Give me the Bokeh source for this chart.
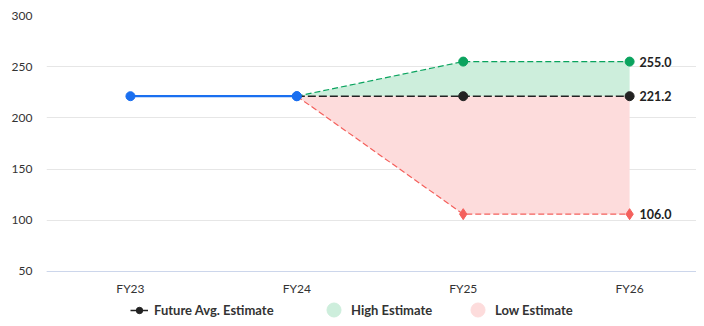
from bokeh.plotting import figure
from bokeh.models import Legend, LegendItem, FixedTicker, Range1d, Span
from bokeh.core.properties import value
from bokeh.embed import file_html
from bokeh.resources import INLINE

categories = ["FY23", "FY24", "FY25", "FY26"]
cat_x = [0, 1, 2, 3]
actual_x = [0, 1]
actual_y = [221.2, 221.2]
est_x = [1, 2, 3]
avg_est = [221.2, 221.2, 221.2]
high_est = [221.2, 255.0, 255.0]
low_est = [221.2, 106.0, 106.0]
y_ticks = [50, 100, 150, 200, 250, 300]
y_floor = 50

FONT = "Lato"
BLUE = "#1a6ff0"
GREEN = "#0aa35e"
RED = "#f4605c"
BLACK = "#222222"
LIGHT_GREEN = "#cdeedc"
LIGHT_RED = "#fddcdc"

p = figure(width=696, height=318, output_backend="svg", toolbar_location=None,
           x_range=Range1d(-0.5045, 3.402), y_range=Range1d(4.1, 300),
           min_border_left=46, min_border_right=0, min_border_top=15, min_border_bottom=0)
p.outline_line_color = None
p.background_fill_color = "white"
p.xaxis.visible = False

# bands
p.varea(x=est_x, y1=avg_est, y2=high_est, fill_color=LIGHT_GREEN, fill_alpha=1)
p.varea(x=est_x, y1=low_est, y2=avg_est, fill_color=LIGHT_RED, fill_alpha=1)

# actual
p.line(actual_x, actual_y, line_color=BLUE, line_width=2.2)
p.scatter(actual_x, actual_y, size=9, fill_color=BLUE, line_color=BLUE)

# high / low
p.line(est_x, high_est, line_color=GREEN, line_width=1.2, line_dash="6 3")
p.scatter(est_x[1:], high_est[1:], size=9, fill_color=GREEN, line_color=GREEN)
p.line(est_x, low_est, line_color=RED, line_width=1.2, line_dash="6 3")
p.scatter(est_x[1:], low_est[1:], marker="diamond", size=11, fill_color=RED, line_color=RED)

# avg
avg_line = p.line(est_x, avg_est, line_color=BLACK, line_width=1.4, line_dash="8 3")
avg_pts = p.scatter(est_x[1:], avg_est[1:], size=9, fill_color=BLACK, line_color=BLACK)
p.scatter([1], [221.2], size=9, fill_color=BLUE, line_color=BLUE)

# value labels
lx = [est_x[-1]] * 3
ly = [high_est[-1], avg_est[-1], low_est[-1]]
lt = [f"{v:.1f}" for v in ly]
p.text(x=lx, y=ly, text=lt, x_offset=10, text_baseline="middle", text_align="left",
       text_font=value(FONT), text_font_size="12.5px", text_font_style="bold", text_color=BLACK)

# x axis line and category labels (drawn inside the frame)
p.add_layout(Span(location=y_floor, dimension="width", line_color="#ccd6eb", line_width=1))
p.text(x=cat_x, y=[y_floor] * len(cat_x), text=categories, y_offset=17,
       text_baseline="middle", text_align="center",
       text_font=value(FONT), text_font_size="12px", text_color="#333333")

# legend renderers (off-range dummy points for the circle swatches)
high_leg = p.scatter([-5], [-500], size=15, fill_color=LIGHT_GREEN, line_color=LIGHT_GREEN)
low_leg = p.scatter([-5], [-500], size=15, fill_color=LIGHT_RED, line_color=LIGHT_RED)

def add_legend(label, renderers, xoff, gw, gh, yoff, standoff):
    lg = Legend(items=[LegendItem(label=label, renderers=renderers)],
                location=(xoff, yoff), orientation="horizontal", border_line_color=None,
                label_text_font=FONT, label_text_font_size="13px", label_text_font_style="bold",
                label_text_color="#333333", glyph_width=gw, glyph_height=gh,
                label_standoff=standoff, padding=0, margin=0, background_fill_alpha=0,
                label_height=16)
    p.add_layout(lg, "center")

add_legend("Future Avg. Estimate", [avg_line, avg_pts], 84, 18, 16, 0, 6)
add_legend("High Estimate", [high_leg], 270, 35, 35, -9, -3)
add_legend("Low Estimate", [low_leg], 414, 35, 35, -9, -3)

p.yaxis.ticker = FixedTicker(ticks=y_ticks)
p.yaxis.axis_line_color = None
p.yaxis.major_tick_line_color = None
p.yaxis.minor_tick_line_color = None
p.yaxis.major_label_standoff = 8
p.yaxis.major_label_text_font = FONT
p.yaxis.major_label_text_font_size = "12px"
p.yaxis.major_label_text_color = "#333333"

p.xgrid.grid_line_color = None
p.ygrid.grid_line_color = "#e6e6e6"
p.ygrid.ticker = FixedTicker(ticks=y_ticks)

open("out.html", "w").write(file_html(p, INLINE))
